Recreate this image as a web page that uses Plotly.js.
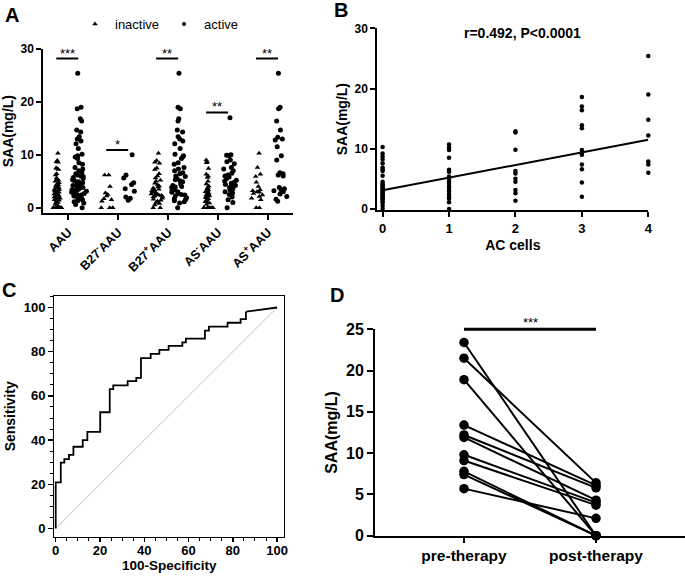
<!DOCTYPE html>
<html><head><meta charset="utf-8">
<script src="https://cdn.plot.ly/plotly-3.0.1.min.js"></script>
<style>html,body{margin:0;padding:0;background:#fff}#chart{width:685px;height:576px}</style>
</head><body><div id="chart"></div>
<script>
// ---------- Panel A data ----------
const groupsA = ['AAU','B27-AAU','B27+AAU','AS-AAU','AS+AAU'];
const labelsA = ['AAU','B27<sup>-</sup>AAU','B27<sup>+</sup>AAU','AS<sup>-</sup>AAU','AS<sup>+</sup>AAU'];
const aauInactive = [10.3,8.9,8.7,8.6,7.5,7.4,7.2,6.4,6.2,5.6,5.4,5.2,5.0,4.7,4.5,4.3,4.1,4.0,3.8,3.7,3.5,3.4,3.3,3.1,3.0,2.9,2.8,2.7,2.6,2.5,2.4,2.3,2.2,2.1,2.0,1.9,1.8,1.7,1.5,1.4,1.2,1.0,0.8,0.5,0.3,0,0,0,0,0,0,0];
const aauActive = [25.4,19.0,18.7,16.8,16.4,14.7,14.3,13.4,13.0,12.6,12.1,11.2,10.1,9.8,9.6,9.3,8.5,8.2,7.6,7.3,7.0,6.6,6.4,6.2,6.0,5.9,5.7,5.5,5.3,5.1,4.9,4.7,4.5,4.4,4.2,4.0,3.9,3.8,3.6,3.5,3.4,3.3,3.1,3.0,2.9,2.7,2.5,2.4,2.2,2.0,1.9,1.7,1.5,1.3,1.1,0.9,0.6,0.0];
const b27negInactive = [6.2,6.2,4.0,2.8,2.5,2.2,1.7,1.5,1.2,0,0,0];
const b27negActive = [10.0,6.2,5.6,4.7,4.4,3.6,3.1,2.0,1.8,1.4];
const b27posInactive = [10.3,8.9,8.6,8.4,7.5,7.2,6.4,6.0,5.6,5.2,5.0,4.6,4.3,4.1,3.9,3.7,3.5,3.4,3.2,3.1,3.0,2.9,2.8,2.6,2.5,2.4,2.3,2.2,2.1,2.0,1.8,1.6,1.4,1.2,1.0,0.8,0.5,0,0];
const b27posActive = [25.4,19.0,18.7,16.8,16.4,14.7,14.3,13.4,13.0,12.6,12.1,11.2,10.1,9.8,9.6,9.3,8.5,8.2,7.6,7.3,7.0,6.6,6.4,6.0,5.9,5.5,5.3,5.1,4.9,4.5,4.2,4.0,3.9,3.8,3.5,3.4,3.3,3.0,2.9,2.7,2.5,2.4,2.2,1.9,1.7,1.5,1.3,1.1,0.9,0.0];
const asnegInactive = [9.0,8.7,8.5,7.4,6.3,6.0,5.7,5.0,4.5,4.1,3.8,3.6,3.4,3.2,3.0,2.8,2.7,2.5,2.4,2.2,2.1,2.0,1.9,1.7,1.5,1.3,1.1,0.9,0.6,0,0,0,0,0,0,0];
const asnegActive = [17.0,10.0,9.9,9.8,9.0,8.7,8.3,7.6,7.3,7.0,6.5,6.2,6.0,5.8,5.5,5.2,5.0,4.8,4.6,4.5,4.4,4.2,4.0,3.8,3.6,3.4,3.0,2.8,2.5,2.0,1.5,1.0,0.0];
const asposInactive = [10.3,7.6,6.3,5.9,4.8,4.0,3.4,3.2,3.0,2.9,2.7,2.4,2.1,1.8,1.5,0,0];
const asposActive = [25.4,19.0,18.7,16.4,14.7,13.3,13.0,12.8,11.5,9.8,9.0,6.6,6.4,6.2,6.0,3.8,3.6,3.4,3.2,3.0,2.6,2.1,1.6,1.2];
const sigA = [{g:0,y:28.2,t:'***'},{g:1,y:10.9,t:'*'},{g:2,y:28.2,t:'**'},{g:3,y:18.0,t:'**'},{g:4,y:28.2,t:'**'}];

// ---------- Panel B data ----------
const acCells = [0,1,2,3,4];
const saaAC0 = [10.3,9.2,8.7,8.2,7.6,6.9,6.6,6.3,5.5,4.5,4.2,4.0,3.8,3.6,3.4,3.2,3.0,2.8,2.6,2.4,2.2,2.0,1.8,1.6,1.3,1.0,0.5,0];
const saaAC1 = [10.7,10.2,9.8,8.5,6.5,6.2,5.4,5.0,4.5,4.2,3.7,3.3,2.9,2.4,2.0,1.7,1.1,0];
const saaAC2 = [12.9,12.7,9.85,6.3,5.9,5.0,4.5,3.15,2.6,1.35];
const saaAC3 = [18.6,17.0,16.4,13.9,13.4,9.8,9.35,9.0,7.4,6.6,4.4,2.05];
const saaAC4 = [25.4,19.0,14.8,12.2,7.9,7.4,6.0];
const fitX = [0,4];
const fitY = [3.1,11.5];

// ---------- Panel C data ----------
const rocFPR = [0,0,2.3,3.9,6.0,8.0,12.2,14.3,20.1,24.4,26.0,32.5,36.4,38.5,42.9,46.8,51.0,57.2,58.8,67.4,69.2,77.6,83.5,85.9,100];
const rocTPR = [0,20.9,29.8,31.4,33.3,37.0,40.0,43.7,52.6,63.1,64.8,66.7,68.2,77.1,79.0,80.8,82.6,84.2,85.9,89.5,91.3,93.1,94.7,98.1,100];

// ---------- Panel D data ----------
const therapy = ['pre-therapy','post-therapy'];
const preVals  = [23.4,21.5,18.9,13.4,12.2,11.9,9.8,9.1,7.8,7.4,5.7];
const postVals = [0,6.4,0,6.1,5.8,4.3,4.0,3.7,0,0,2.1];

// ---------- build ----------
const FAM = 'Liberation Sans, Arial, Helvetica, sans-serif';
const BLK = '#000';
const inactiveSets = [aauInactive,b27negInactive,b27posInactive,asnegInactive,asposInactive];
const activeSets = [aauActive,b27negActive,b27posActive,asnegActive,asposActive];
function flat(sets){const x=[],y=[];sets.forEach((s,i)=>s.forEach(v=>{x.push(groupsA[i]);y.push(v);}));return {x,y};}
const inA = flat(inactiveSets), acA = flat(activeSets);
const boxCommon = {type:'box',xaxis:'x',yaxis:'y',boxpoints:'all',pointpos:0,line:{width:0,color:'rgba(0,0,0,0)'},
  fillcolor:'rgba(0,0,0,0)',whiskerwidth:0,hoverinfo:'skip',showlegend:false};
const traces = [];
traces.push(Object.assign({},boxCommon,{x:inA.x,y:inA.y,name:'inactive',offsetgroup:'a',jitter:0.62,
  marker:{symbol:'triangle-up',size:5,color:BLK}}));
traces.push(Object.assign({},boxCommon,{x:acA.x,y:acA.y,name:'active',offsetgroup:'b',jitter:0.85,
  marker:{symbol:'circle',size:5,color:BLK}}));
traces.push({type:'scatter',mode:'markers',x:[null],y:[null],xaxis:'x',yaxis:'y',name:'inactive',
  marker:{symbol:'triangle-up',size:5,color:BLK},showlegend:true});
traces.push({type:'scatter',mode:'markers',x:[null],y:[null],xaxis:'x',yaxis:'y',name:'active',
  marker:{symbol:'circle',size:4,color:BLK},showlegend:true});

// Panel B
const bSets=[saaAC0,saaAC1,saaAC2,saaAC3,saaAC4];
const bx=[],by=[];
bSets.forEach((s,i)=>s.forEach(v=>{bx.push(acCells[i]);by.push(v);}));
traces.push({type:'scatter',mode:'markers',x:bx,y:by,xaxis:'x2',yaxis:'y2',cliponaxis:false,showlegend:false,
  marker:{size:4.5,color:BLK},hoverinfo:'skip'});
traces.push({type:'scatter',mode:'lines',x:fitX,y:fitY,xaxis:'x2',yaxis:'y2',showlegend:false,
  line:{color:BLK,width:2},hoverinfo:'skip'});

// Panel C
const n = rocFPR.length;
traces.push({type:'scatter',mode:'lines',x:[0,100],y:[0,100],xaxis:'x3',yaxis:'y3',showlegend:false,
  line:{color:'#c0c0c0',width:1},hoverinfo:'skip'});
traces.push({type:'scatter',mode:'lines',x:rocFPR.slice(0,n-1),y:rocTPR.slice(0,n-1),xaxis:'x3',yaxis:'y3',
  showlegend:false,line:{color:BLK,width:1.8,shape:'hv'},hoverinfo:'skip'});
traces.push({type:'scatter',mode:'lines',x:rocFPR.slice(n-2),y:rocTPR.slice(n-2),xaxis:'x3',yaxis:'y3',
  showlegend:false,line:{color:BLK,width:1.8},hoverinfo:'skip'});

// Panel D
preVals.forEach((p,i)=>{
  traces.push({type:'scatter',mode:'lines+markers',x:therapy,y:[p,postVals[i]],xaxis:'x4',yaxis:'y4',
    cliponaxis:false,showlegend:false,line:{color:BLK,width:2},marker:{size:9.5,color:BLK},hoverinfo:'skip'});
});

function tf(size){return {family:FAM,size:size,color:BLK,weight:700};}
const axBase = {showline:true,linecolor:BLK,showgrid:false,zeroline:false,ticks:'outside',tickcolor:BLK};

const shapes = [], annotations = [];
sigA.forEach(s=>{
  shapes.push({type:'line',xref:'x',yref:'y',x0:s.g-0.24,x1:s.g+0.2,y0:s.y,y1:s.y,line:{color:BLK,width:2}});
  annotations.push({xref:'x',yref:'y',x:s.g-0.02,y:s.y,text:s.t,showarrow:false,yanchor:'bottom',yshift:-4,
    font:{family:FAM,size:13,color:BLK}});
});
const dTop = 1-329.3/576;
shapes.push({type:'line',xref:'x4',yref:'paper',x0:0,x1:1,y0:dTop,y1:dTop,line:{color:BLK,width:3}});
annotations.push({xref:'x4',yref:'paper',x:0.5,y:dTop,text:'***',showarrow:false,yanchor:'bottom',yshift:-3,
  font:{family:FAM,size:13,color:BLK}});
annotations.push({xref:'x2',yref:'paper',x:2.1,y:1-33/576,text:'<b>r=0.492, P<0.0001</b>',showarrow:false,
  yanchor:'middle',font:{family:FAM,size:14,color:BLK}});
[['A',12.5,14.5],['B',341,10],['C',8.5,290],['D',336.5,295]].forEach(l=>{
  annotations.push({xref:'paper',yref:'paper',x:l[1]/685,y:1-l[2]/576,text:'<b>'+l[0]+'</b>',showarrow:false,
    xanchor:'center',yanchor:'middle',font:{family:FAM,size:20,color:BLK}});
});

const layout = {
  width:685,height:576,margin:{l:0,r:0,t:0,b:0},paper_bgcolor:'#fff',plot_bgcolor:'rgba(0,0,0,0)',
  font:{family:FAM,color:BLK},
  boxmode:'group',boxgap:0.12,boxgroupgap:0.1,
  showlegend:true,
  legend:{orientation:'h',x:75/685,y:1-24/576,xanchor:'left',yanchor:'middle',bgcolor:'rgba(0,0,0,0)',
    font:{family:FAM,size:13,color:BLK}},
  xaxis:Object.assign({},axBase,{domain:[43.3/685,293/685],anchor:'y',type:'category',categoryorder:'array',
    categoryarray:groupsA,tickvals:groupsA,ticktext:labelsA,range:[-0.5,4.5],tickangle:-45,ticklen:5,tickwidth:2,
    linewidth:2,tickfont:tf(12.5)}),
  yaxis:Object.assign({},axBase,{domain:[1-213.3/576,1-49/576],anchor:'x',range:[-1.06,30],tickvals:[0,10,20,30],
    ticklen:5,tickwidth:2,linewidth:2,tickfont:tf(12),title:{text:'SAA(mg/L)',font:tf(14),standoff:4}}),
  xaxis2:Object.assign({},axBase,{domain:[377.3/685,648.3/685],anchor:'y2',range:[-0.08,4.0],tickvals:acCells,
    ticklen:5,tickwidth:2,linewidth:2,tickfont:tf(13),title:{text:'AC cells',font:tf(14),standoff:6}}),
  yaxis2:Object.assign({},axBase,{domain:[1-210/576,1-28.3/576],anchor:'x2',range:[-0.17,30],tickvals:[0,10,20,30],
    ticklen:5,tickwidth:2,linewidth:2,tickfont:tf(12),title:{text:'SAA(mg/L)',font:tf(14),standoff:4}}),
  xaxis3:Object.assign({},axBase,{domain:[54.3/685,284/685],anchor:'y3',range:[-0.63,103.1],tick0:0,dtick:20,
    ticklen:4,tickwidth:1.3,linewidth:1.3,mirror:true,tickfont:tf(13),ticklabelstandoff:-3,
    minor:{dtick:5,ticks:'outside',ticklen:3,tickwidth:1,tickcolor:BLK,showgrid:false},
    title:{text:'100-Specificity',font:tf(13.5),standoff:1}}),
  yaxis3:Object.assign({},axBase,{domain:[1-536.7/576,1-296/576],anchor:'x3',range:[-3.7,105.2],tick0:0,dtick:20,
    ticklen:5,tickwidth:1.3,linewidth:1.3,mirror:true,tickfont:tf(13),
    minor:{dtick:5,ticks:'outside',ticklen:3,tickwidth:1,tickcolor:BLK,showgrid:false},
    title:{text:'Sensitivity',font:tf(14),standoff:4}}),
  xaxis4:Object.assign({},axBase,{domain:[375/685,1],anchor:'y4',type:'category',categoryorder:'array',
    categoryarray:therapy,range:[-0.674,1.674],ticklen:5,tickwidth:2,linewidth:2,tickfont:tf(15.5)}),
  yaxis4:Object.assign({},axBase,{domain:[1-535.7/576,1-329.3/576],anchor:'x4',range:[0,25],tick0:0,dtick:5,
    ticklen:6,tickwidth:2,linewidth:2,tickfont:tf(16),title:{text:'SAA(mg/L)',font:tf(16),standoff:4}}),
  shapes:shapes,annotations:annotations
};
Plotly.newPlot('chart',traces,layout,{displayModeBar:false,staticPlot:true});
</script></body></html>
